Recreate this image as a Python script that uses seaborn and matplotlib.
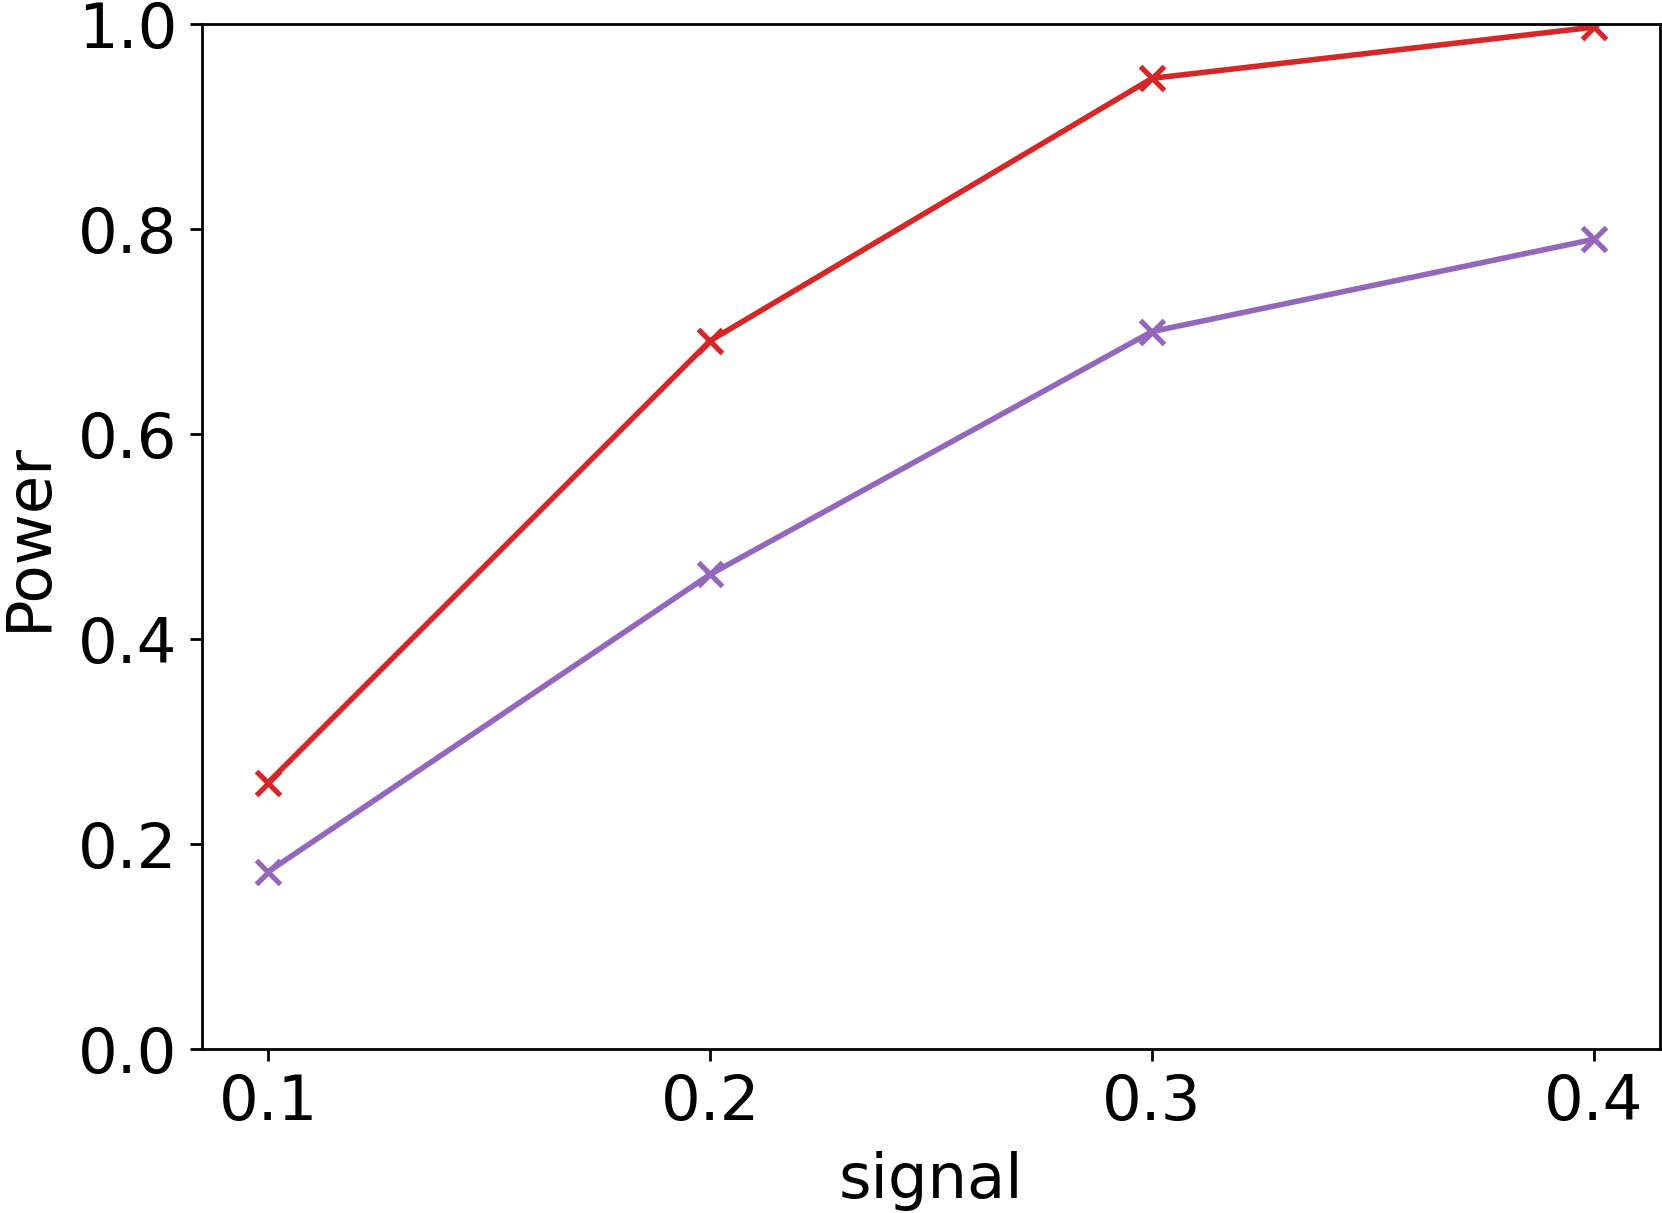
import matplotlib
matplotlib.use("Agg")
import matplotlib.pyplot as plt
import seaborn as sns
import pandas as pd

signal = [0.1, 0.2, 0.3, 0.4]
power_a = [0.26, 0.691, 0.947, 0.997]
power_b = [0.173, 0.463, 0.700, 0.790]
series_names = ["A", "B"]
colors = ["#d62728", "#9467bd"]

df = pd.DataFrame({
    "signal": signal * 2,
    "Power": power_a + power_b,
    "method": [series_names[0]] * 4 + [series_names[1]] * 4,
})

plt.rcParams["font.size"] = 18
fig = plt.figure(figsize=(1662 / 250, 1213 / 250), dpi=250)
ax = fig.add_axes([0.1215, 0.1352, 0.8775, 0.845])

sns.lineplot(data=df, x="signal", y="Power", hue="method", palette=colors,
             marker="x", markersize=7, markeredgewidth=1.5, linewidth=1.6,
             legend=False, ax=ax)

# seaborn paints marker edges white, give the x's the line colour back
for line in ax.lines:
    line.set_markeredgecolor(line.get_color())

ax.set_ylim(0, 1.0)
ax.set_xticks(signal)
ax.set_xlabel("signal", labelpad=5)
ax.set_ylabel("Power", labelpad=5.5)

fig.savefig("out.png", dpi=250)
